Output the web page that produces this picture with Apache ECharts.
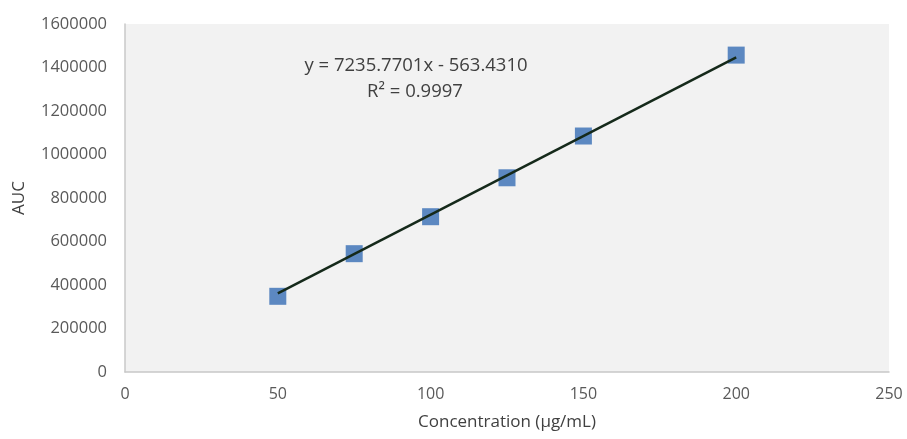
<!DOCTYPE html>
<html>
<head>
<meta charset="utf-8">
<script src="https://cdn.jsdelivr.net/npm/echarts@6/dist/echarts.min.js"></script>
<style>
html,body{margin:0;padding:0;background:#fff;}
#chart{width:907px;height:439px;}
</style>
</head>
<body>
<div id="chart"></div>
<script>
// Calibration data
const concentrations = [50, 75, 100, 125, 150, 200];
const aucValues = [348000, 544000, 714000, 893000, 1085000, 1457000];
// Trendline endpoints from y = 7235.7701x - 563.4310
const trendX = [50, 200];
const trendY = [361225, 1446591];
const equationText = 'y = 7235.7701x - 563.4310';
const r2Text = 'R² = 0.9997';
const xTicks = [0, 50, 100, 150, 200, 250];
const yTicks = [0, 200000, 400000, 600000, 800000, 1000000, 1200000, 1400000, 1600000];

const FONT = 'Open Sans';
const chart = echarts.init(document.getElementById('chart'), null, {renderer: 'canvas'});
chart.setOption({
  animation: false,
  backgroundColor: '#ffffff',
  grid: {left: 125, right: 18, top: 24, bottom: 67, show: true, backgroundColor: '#f2f2f2', borderWidth: 0},
  xAxis: {
    type: 'value', min: xTicks[0], max: xTicks[xTicks.length - 1], interval: 50,
    name: 'Concentration (µg/mL)', nameLocation: 'middle', nameGap: 42,
    nameTextStyle: {fontFamily: FONT, fontSize: 17, color: '#404040'},
    axisLine: {show: true, lineStyle: {color: '#c8c8c8', width: 1.5}},
    axisTick: {show: false},
    splitLine: {show: false},
    axisLabel: {fontFamily: FONT, fontSize: 16, color: '#595959', margin: 14, formatter: v => String(v)}
  },
  yAxis: {
    type: 'value', min: yTicks[0], max: yTicks[yTicks.length - 1], interval: 200000,
    name: 'AUC', nameLocation: 'middle', nameGap: 97, nameRotate: 90,
    nameTextStyle: {fontFamily: FONT, fontSize: 17, color: '#404040'},
    axisLine: {show: true, lineStyle: {color: '#c8c8c8', width: 1.5}},
    axisTick: {show: false},
    splitLine: {show: false},
    axisLabel: {fontFamily: FONT, fontSize: 16.5, color: '#595959', margin: 18, formatter: v => String(v)}
  },
  series: [
    {
      type: 'scatter',
      data: concentrations.map((c, i) => [c, aucValues[i]]),
      symbol: 'rect', symbolSize: 17,
      itemStyle: {color: '#4f7fbd', opacity: 0.92},
      z: 2
    },
    {
      type: 'line',
      data: trendX.map((c, i) => [c, trendY[i]]),
      showSymbol: false, symbol: 'none',
      lineStyle: {color: '#15291a', width: 2.5},
      z: 3
    }
  ],
  graphic: [
    {type: 'text', x: 416, y: 66, style: {text: equationText, font: '18.5px "Open Sans"', fill: '#404040', align: 'center', verticalAlign: 'middle'}},
    {type: 'text', x: 415, y: 92, style: {text: r2Text, font: '18.5px "Open Sans"', fill: '#404040', align: 'center', verticalAlign: 'middle'}}
  ]
});
</script>
</body>
</html>
